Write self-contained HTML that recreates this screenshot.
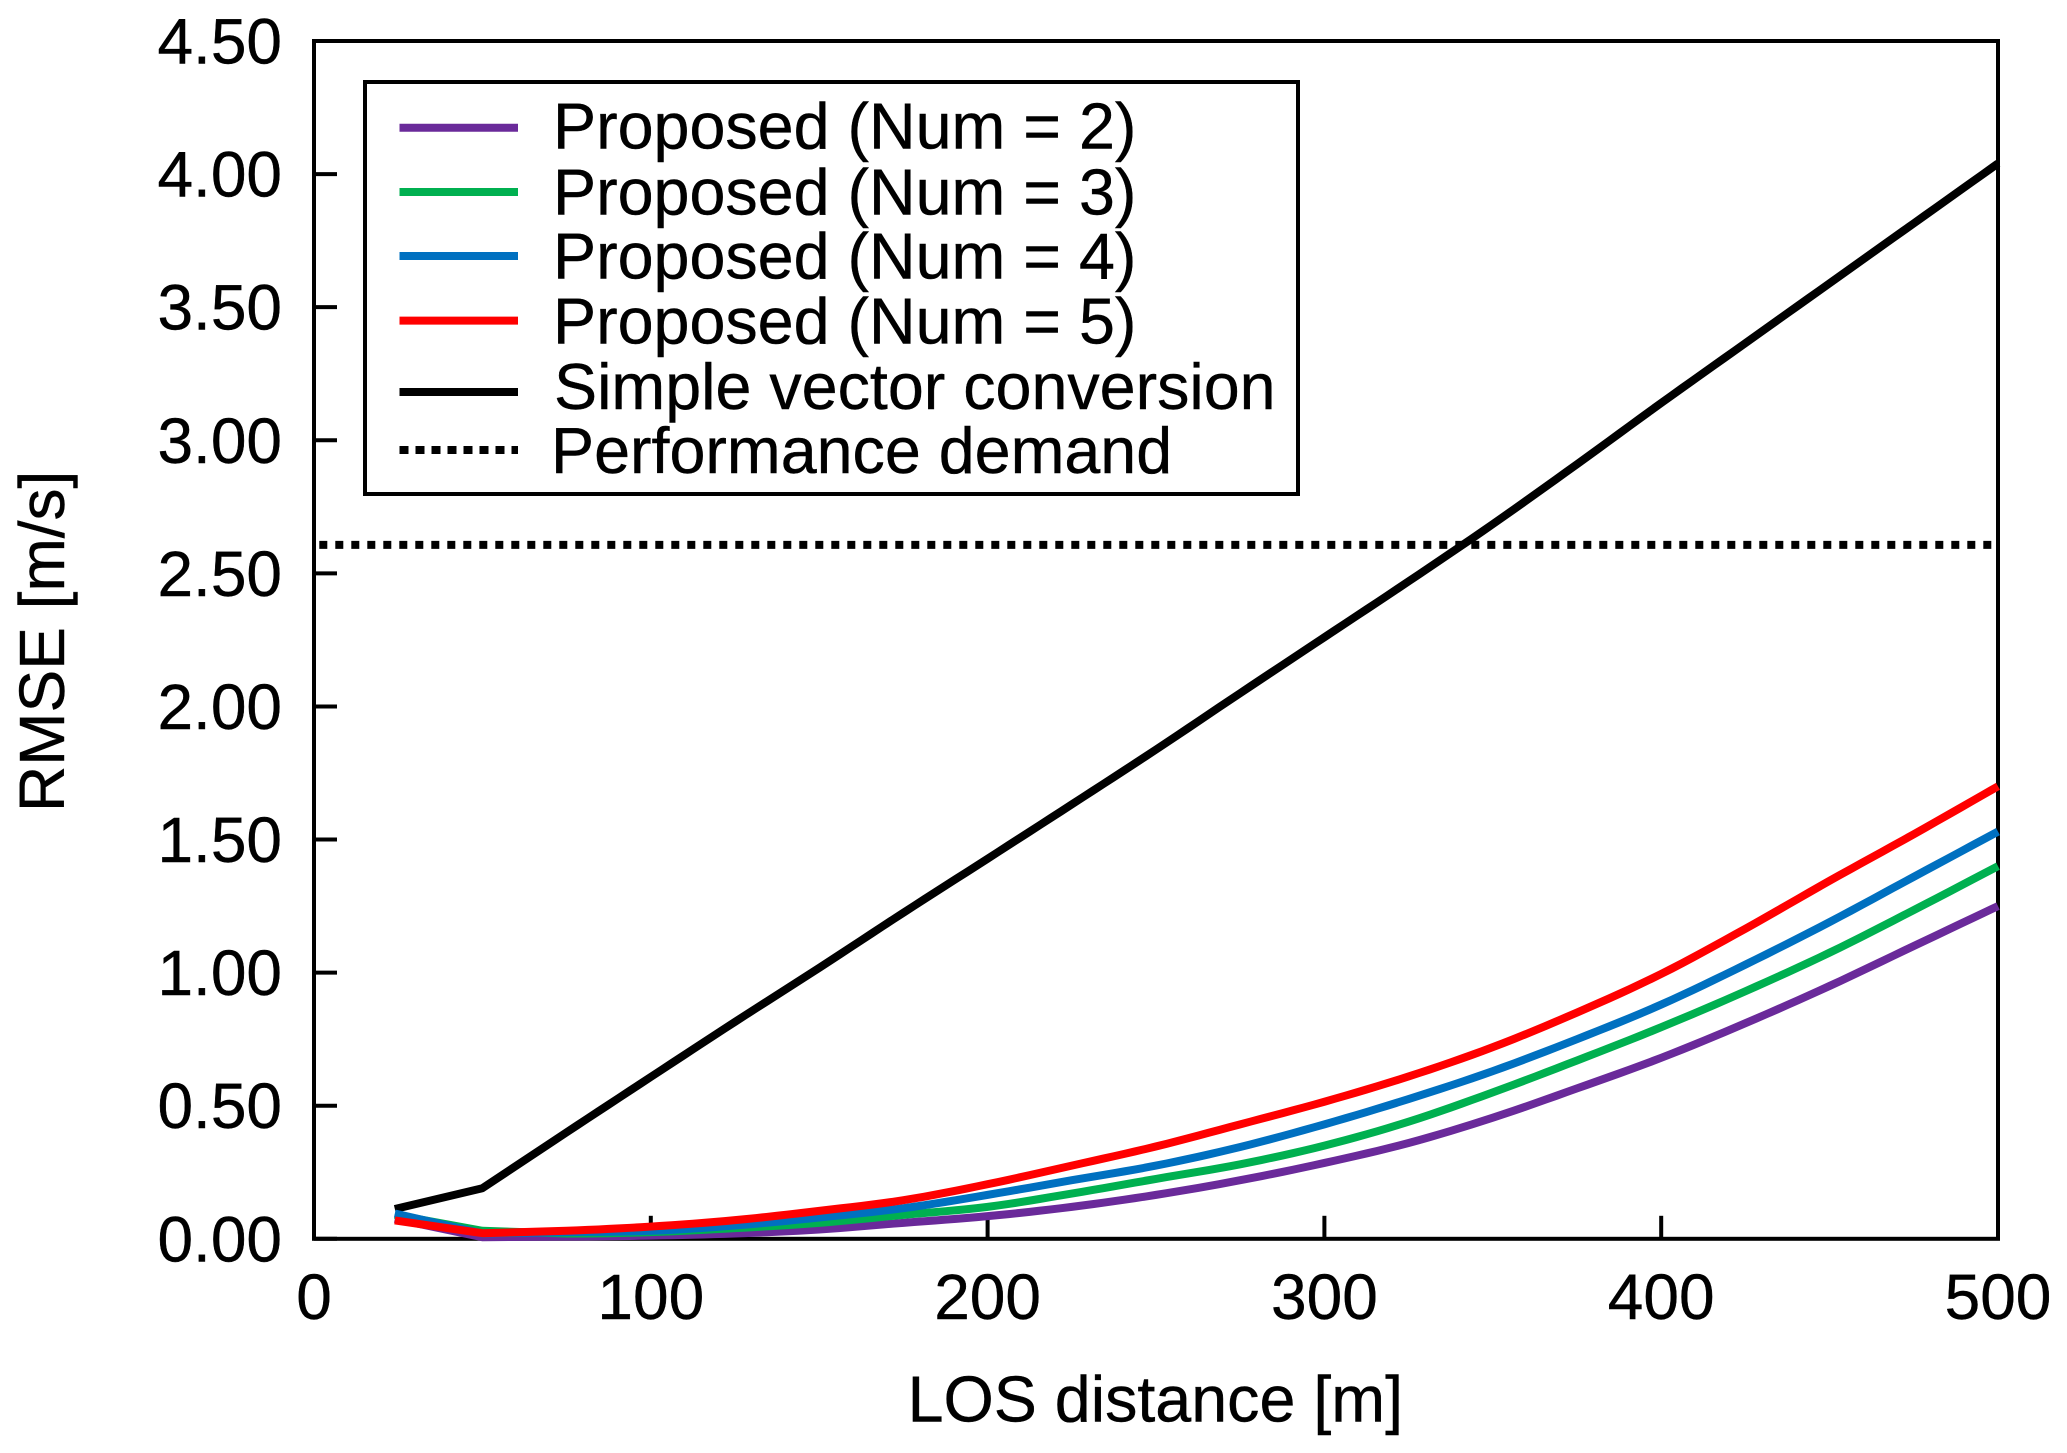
<!DOCTYPE html>
<html lang="en">
<head>
<meta charset="utf-8">
<title>RMSE vs LOS distance</title>
<style>
  html, body { margin: 0; padding: 0; background: #fff; width: 2067px; height: 1453px; overflow: hidden; }
  svg { display: block; }
  text { font-family: "Liberation Sans", Arial, sans-serif; font-size: 64px; fill: #000; stroke: #000; stroke-width: 0.4px; }
  .wide { font-size: 64.6px; }
</style>
</head>
<body>
<svg id="chart" xmlns="http://www.w3.org/2000/svg" width="2067" height="1453" viewBox="0 0 2067 1453">
  <rect x="0" y="0" width="2067" height="1453" fill="#fff"/>
  <g id="frame-layer"></g>
  <g id="series-layer"></g>

  <text transform="translate(64 812) rotate(-90)">RMSE [m/s]</text>
  <text class="wide" x="907.6" y="1421.7">LOS distance [m]</text>

  <g>
    <rect x="365" y="82" width="933" height="412" fill="#fff" stroke="#000" stroke-width="4"/>
    <line x1="399.5" x2="518" y1="127.7" y2="127.7" stroke="#6a2a9a" stroke-width="8"/>
    <text class="wide" x="553" y="148.6">Proposed (Num = 2)</text>
    <line x1="399.5" x2="518" y1="192" y2="192" stroke="#00b050" stroke-width="8"/>
    <text class="wide" x="553" y="214.5">Proposed (Num = 3)</text>
    <line x1="399.5" x2="518" y1="256" y2="256" stroke="#0070c0" stroke-width="8"/>
    <text class="wide" x="553" y="278.7">Proposed (Num = 4)</text>
    <line x1="399.5" x2="518" y1="320.6" y2="320.6" stroke="#ff0000" stroke-width="8"/>
    <text class="wide" x="553" y="343.6">Proposed (Num = 5)</text>
    <line x1="399.5" x2="518" y1="392" y2="392" stroke="#000" stroke-width="8"/>
    <text class="wide" x="554" y="408.8">Simple vector conversion</text>
    <line x1="399.5" x2="518" y1="450" y2="450" stroke="#000" stroke-width="8" stroke-dasharray="9 7"/>
    <text class="wide" x="551" y="473">Performance demand</text>
  </g>
</svg>

<script>
const distances = [24, 50, 75, 100, 125, 150, 175, 200, 225, 250, 275, 300, 325, 350, 375, 400, 425, 450, 475, 500];
const simpleVector = [0.112, 0.19, 0.40, 0.608, 0.815, 1.018, 1.225, 1.428, 1.632, 1.838, 2.05, 2.26, 2.47, 2.685, 2.91, 3.14, 3.365, 3.59, 3.815, 4.04];
const proposedNum2 = [0.075, 0.006, 0.008, 0.012, 0.02, 0.035, 0.06, 0.085, 0.12, 0.165, 0.22, 0.285, 0.36, 0.455, 0.565, 0.68, 0.81, 0.95, 1.10, 1.25];
const proposedNum3 = [0.09, 0.03, 0.02, 0.025, 0.04, 0.06, 0.09, 0.12, 0.17, 0.225, 0.28, 0.35, 0.44, 0.55, 0.67, 0.795, 0.93, 1.075, 1.235, 1.40];
const proposedNum4 = [0.095, 0.02, 0.025, 0.03, 0.05, 0.08, 0.115, 0.165, 0.22, 0.275, 0.345, 0.43, 0.525, 0.63, 0.75, 0.88, 1.03, 1.19, 1.36, 1.53];
const proposedNum5 = [0.069, 0.021, 0.03, 0.046, 0.07, 0.105, 0.145, 0.205, 0.275, 0.347, 0.43, 0.515, 0.61, 0.72, 0.85, 0.995, 1.165, 1.345, 1.52, 1.70];
const demandLevel = [2.607];
const xTicks = [0, 100, 200, 300, 400, 500];
const yTicks = [0, 0.5, 1, 1.5, 2, 2.5, 3, 3.5, 4, 4.5];
const yTickLabels = ['0.00', '0.50', '1.00', '1.50', '2.00', '2.50', '3.00', '3.50', '4.00', '4.50'];

const NS = 'http://www.w3.org/2000/svg';
const plotLeft = 314, plotRight = 1998, plotTop = 41, plotBottom = 1238.8;
const xMax = 500, yMax = 4.5;
function xScale(v) { return plotLeft + (v / xMax) * (plotRight - plotLeft); }
function yScale(v) { return plotBottom - (v / yMax) * (plotBottom - plotTop); }

const frameLayer = document.getElementById('frame-layer');
const seriesLayer = document.getElementById('series-layer');

const frame = document.createElementNS(NS, 'rect');


frame.setAttribute('x', plotLeft);
frame.setAttribute('y', plotTop);
frame.setAttribute('width', plotRight - plotLeft);
frame.setAttribute('height', plotBottom - plotTop);
frame.setAttribute('fill', 'none');
frame.setAttribute('stroke', '#000');
frame.setAttribute('stroke-width', '4');
frameLayer.appendChild(frame);

xTicks.forEach(function (t) {
  const tick = document.createElementNS(NS, 'line');
  
  
  tick.setAttribute('x1', xScale(t));
  tick.setAttribute('x2', xScale(t));
  tick.setAttribute('y1', plotBottom);
  tick.setAttribute('y2', plotBottom - 23);
  tick.setAttribute('stroke', '#000');
  tick.setAttribute('stroke-width', '4');
  frameLayer.appendChild(tick);
  const label = document.createElementNS(NS, 'text');
  
  
  label.setAttribute('x', xScale(t));
  label.setAttribute('y', 1319);
  label.setAttribute('text-anchor', 'middle');
  label.textContent = String(t);
  frameLayer.appendChild(label);
});

yTicks.forEach(function (t, i) {
  const tick = document.createElementNS(NS, 'line');
  
  
  tick.setAttribute('x1', plotLeft);
  tick.setAttribute('x2', plotLeft + 23);
  tick.setAttribute('y1', yScale(t));
  tick.setAttribute('y2', yScale(t));
  tick.setAttribute('stroke', '#000');
  tick.setAttribute('stroke-width', '4');
  frameLayer.appendChild(tick);
  const label = document.createElementNS(NS, 'text');
  
  
  label.setAttribute('x', 282);
  label.setAttribute('y', yScale(t) + 22.5);
  label.setAttribute('text-anchor', 'end');
  label.textContent = yTickLabels[i];
  frameLayer.appendChild(label);
});

const demandLine = document.createElementNS(NS, 'line');


demandLine.setAttribute('x1', xScale(0));
demandLine.setAttribute('x2', xScale(xMax));
demandLine.setAttribute('y1', yScale(demandLevel[0]));
demandLine.setAttribute('y2', yScale(demandLevel[0]));
demandLine.setAttribute('stroke', '#000');
demandLine.setAttribute('stroke-width', '8');
demandLine.setAttribute('stroke-dasharray', '8 8');
demandLine.setAttribute('stroke-dashoffset', '10.7');
seriesLayer.appendChild(demandLine);

// Straight through the first two segments (the sharp kink at 50 m), then a
// Catmull-Rom curve through the read values so the long run stays smooth.
function pointsFor(values) {
  const px = values.map(function (v, i) { return [xScale(distances[i]), yScale(v)]; });
  const out = [px[0], px[1], px[2]];
  for (let i = 2; i < px.length - 1; i++) {
    const p0 = px[i - 1], p1 = px[i], p2 = px[i + 1], p3 = px[Math.min(i + 2, px.length - 1)];
    for (let s = 1; s <= 8; s++) {
      const t = s / 8, t2 = t * t, t3 = t2 * t;
      out.push([0, 1].map(function (k) {
        return 0.5 * (2 * p1[k] + (p2[k] - p0[k]) * t + (2 * p0[k] - 5 * p1[k] + 4 * p2[k] - p3[k]) * t2 + (3 * p1[k] - p0[k] - 3 * p2[k] + p3[k]) * t3);
      }));
    }
  }
  return out.map(function (p) { return p[0].toFixed(2) + ',' + p[1].toFixed(2); }).join(' ');
}

const blackLine = document.createElementNS(NS, 'polyline');


blackLine.setAttribute('points', pointsFor(simpleVector));
blackLine.setAttribute('fill', 'none');
blackLine.setAttribute('stroke', '#000');
blackLine.setAttribute('stroke-width', '8');
blackLine.setAttribute('stroke-linejoin', 'round');
seriesLayer.appendChild(blackLine);

const purpleLine = document.createElementNS(NS, 'polyline');


purpleLine.setAttribute('points', pointsFor(proposedNum2));
purpleLine.setAttribute('fill', 'none');
purpleLine.setAttribute('stroke', '#6a2a9a');
purpleLine.setAttribute('stroke-width', '8');
purpleLine.setAttribute('stroke-linejoin', 'round');
seriesLayer.appendChild(purpleLine);

const greenLine = document.createElementNS(NS, 'polyline');


greenLine.setAttribute('points', pointsFor(proposedNum3));
greenLine.setAttribute('fill', 'none');
greenLine.setAttribute('stroke', '#00b050');
greenLine.setAttribute('stroke-width', '8');
greenLine.setAttribute('stroke-linejoin', 'round');
seriesLayer.appendChild(greenLine);

const blueLine = document.createElementNS(NS, 'polyline');


blueLine.setAttribute('points', pointsFor(proposedNum4));
blueLine.setAttribute('fill', 'none');
blueLine.setAttribute('stroke', '#0070c0');
blueLine.setAttribute('stroke-width', '8');
blueLine.setAttribute('stroke-linejoin', 'round');
seriesLayer.appendChild(blueLine);

const redLine = document.createElementNS(NS, 'polyline');


redLine.setAttribute('points', pointsFor(proposedNum5));
redLine.setAttribute('fill', 'none');
redLine.setAttribute('stroke', '#ff0000');
redLine.setAttribute('stroke-width', '8');
redLine.setAttribute('stroke-linejoin', 'round');
seriesLayer.appendChild(redLine);
</script>
</body>
</html>
